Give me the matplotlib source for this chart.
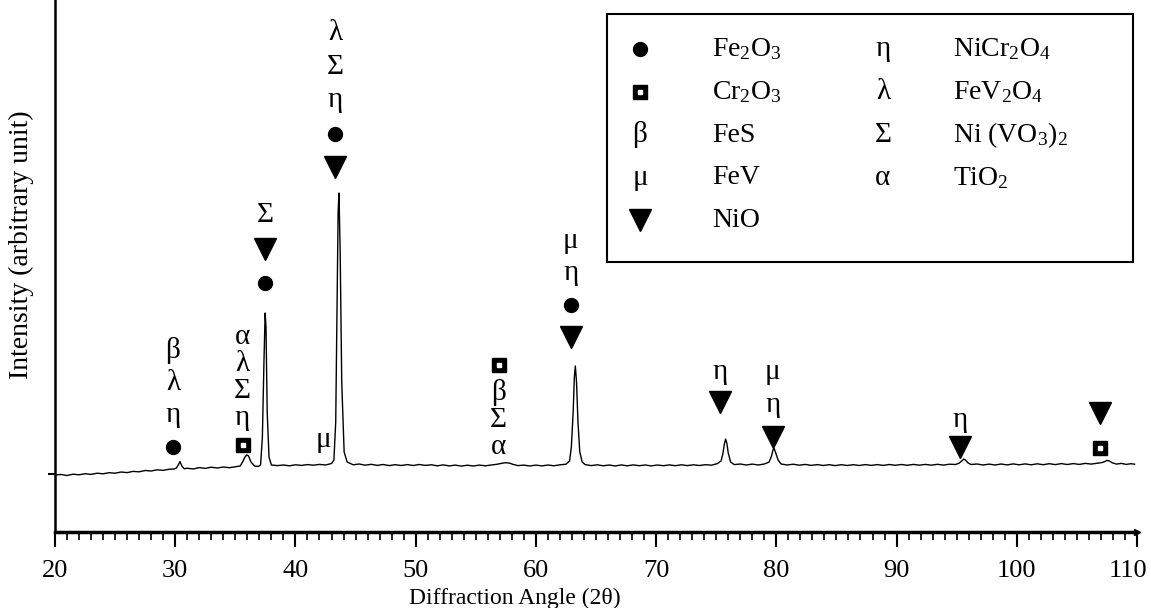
import matplotlib.pyplot as plt
from matplotlib.patches import Rectangle
from matplotlib.transforms import ScaledTranslation

plt.rcParams['font.family'] = 'Liberation Serif'
plt.rcParams['mathtext.fontset'] = 'custom'
plt.rcParams['mathtext.rm'] = 'Liberation Serif'
plt.rcParams['mathtext.default'] = 'regular'

# diffraction trace (2theta in degrees, intensity in arbitrary units)
two_theta = [
    20, 20.5, 21, 21.5, 22, 22.5, 23, 23.5, 24, 24.5, 25, 25.5, 26, 26.5, 27, 27.5,
    28, 28.5, 29, 29.5, 29.9,
    30.1, 30.25, 30.4, 30.55, 30.75,
    31, 31.5, 32, 32.5, 33, 33.5, 34, 34.5, 35, 35.4,
    35.6, 35.8, 35.95, 36.1, 36.3, 36.6, 36.9, 37.1,
    37.25, 37.38, 37.48, 37.55, 37.65, 37.8, 38.0,
    38.5, 39, 39.5, 40, 40.5, 41, 41.5, 42, 42.5, 43, 43.2,
    43.35, 43.45, 43.55, 43.62, 43.72, 43.85, 44.05, 44.3,
    44.8, 45.3, 45.8, 46.3, 46.8, 47.3, 47.8, 48.3, 48.8, 49.3, 49.8, 50.3, 50.8,
    51.3, 51.8, 52.3, 52.8, 53.3, 53.8, 54.3, 54.8, 55.3, 55.8, 56.3, 56.8,
    57.2, 57.5, 57.8, 58.1, 58.5,
    59, 59.5, 60, 60.5, 61, 61.5, 62, 62.5, 62.8,
    62.95, 63.1, 63.2, 63.28, 63.38, 63.5, 63.65, 63.85, 64.1,
    64.6, 65.1, 65.6, 66.1, 66.6, 67.1, 67.6, 68.1, 68.6, 69.1, 69.6, 70.1, 70.6,
    71.1, 71.6, 72.1, 72.6, 73.1, 73.6, 74.1, 74.6, 75.1, 75.4,
    75.55, 75.68, 75.78, 75.88, 76.0, 76.2, 76.5,
    77, 77.5, 78, 78.5, 79, 79.4,
    79.6, 79.72, 79.82, 79.95, 80.15, 80.4,
    80.9, 81.4, 81.9, 82.4, 82.9, 83.4, 83.9, 84.4, 84.9, 85.4, 85.9, 86.4, 86.9,
    87.4, 87.9, 88.4, 88.9, 89.4, 89.9, 90.4, 90.9, 91.4, 91.9, 92.4, 92.9, 93.4,
    93.9, 94.4, 94.9, 95.2,
    95.45, 95.6, 95.75, 95.95, 96.2,
    96.7, 97.2, 97.7, 98.2, 98.7, 99.2, 99.7, 100.2, 100.7, 101.2, 101.7, 102.2,
    102.7, 103.2, 103.7, 104.2, 104.7, 105.2, 105.7, 106.2, 106.7, 107.1,
    107.3, 107.5, 107.7, 107.95, 108.3,
    108.7, 109.1, 109.5, 109.8,
]
intensity = [
    57, 57.5, 56.5, 57.8, 57.2, 58.3, 57.6, 58.8, 58.2, 59.3, 58.8, 60, 59.4, 60.6, 60.2, 61.5,
    61, 62.2, 61.6, 62.8, 63,
    64, 67, 70.5, 66, 63.2,
    63.8, 63, 64.4, 63.6, 64.8, 64, 65, 64.3, 65.2, 66,
    70, 75, 77, 76, 70, 66, 65.5, 67,
    95, 170, 219, 205, 120, 75, 67,
    66.4, 67, 66.2, 67.2, 66.6, 67.4, 66.8, 67.6, 67, 68.5, 72,
    110, 220, 320, 339, 280, 150, 80, 70,
    67.2, 68, 66.8, 67.7, 66.6, 67.5, 66.4, 67.3, 66.5, 67.4, 66.5, 67.5, 66.6,
    67.2, 66.2, 67.1, 66.1, 66.9, 65.9, 66.8, 66, 66.9, 66.2, 67, 67.8,
    68.8, 69.3, 68.9, 67.6, 66.4,
    66.9, 66, 66.9, 66.1, 67, 66.2, 67.2, 67.8, 71,
    85, 120, 155, 166, 150, 110, 80, 70, 67.4,
    66.4, 67.2, 66.2, 67, 66, 67.1, 66.2, 67.1, 66.3, 67, 66.1, 67, 66.3,
    67.1, 66.3, 67.2, 66.4, 67.2, 66.5, 67.3, 66.8, 68.4, 71,
    78, 88, 93, 89, 79, 70, 67.4,
    68, 67, 67.9, 67, 68, 70,
    76, 82, 83.5, 79, 72, 68,
    67, 67.8, 66.8, 67.6, 66.6, 67.4, 66.5, 67.3, 66.4, 67.3, 66.5, 67.3, 66.5,
    67.4, 66.6, 67.4, 66.6, 67.5, 66.7, 67.5, 66.7, 67.6, 66.8, 67.6, 66.8, 67.7,
    66.9, 67.8, 67.5, 68.8,
    71.5, 73, 71.8, 69, 67.5,
    68, 67, 67.9, 67, 68, 67.1, 68.1, 67.2, 68.1, 67.2, 68.2, 67.3,
    68.3, 67.4, 68.4, 67.5, 68.4, 67.6, 68.6, 67.9, 68.8, 69.5,
    70.3, 71.6, 71, 69.2, 67.9,
    68.6, 67.6, 68.3, 67.8,
]

x_ticks = [20, 30, 40, 50, 60, 70, 80, 90, 100, 110]

# peak identifications: x, y of lowest item, spacing, items from top to bottom
# 'o' = Fe2O3 dot, 's' = Cr2O3 square, 'v' = NiO triangle, anything else is text
peak_labels = [
    (29.8, 85, 32, ['β', 'λ', 'η', 'o']),
    (35.6, 87, 27, ['α', 'λ', 'Σ', 'η', 's']),
    (37.5, 249, 34, ['Σ', 'v', 'o']),
    (42.3, 92, 0, ['μ']),
    (43.3, 365, 33.5, ['λ', 'Σ', 'η', 'o', 'v']),
    (56.9, 85, 27.3, ['s', 'β', 'Σ', 'α']),
    (62.9, 195, 32, ['μ', 'η', 'o', 'v']),
    (75.3, 130, 30, ['η', 'v']),
    (79.7, 95, 32.5, ['μ', 'η', 'v']),
    (95.3, 85, 27, ['η', 'v']),
    (106.9, 84, 35, ['v', 's']),
]

legend_left = [('o', 'Fe$_2$O$_3$'), ('s', 'Cr$_2$O$_3$'), ('β', 'FeS'),
               ('μ', 'FeV'), ('v', 'NiO')]
legend_right = [('η', 'NiCr$_2$O$_4$'), ('λ', 'FeV$_2$O$_4$'),
                ('Σ', 'Ni (VO$_3$)$_2$'), ('α', 'TiO$_2$')]


def draw_symbol(ax, x, y, sym, transform):
    if sym == 'o':
        ax.plot(x, y, 'o', color='black', ms=10, transform=transform, clip_on=False)
    elif sym == 'v':
        ax.plot(x, y, 'v', color='black', ms=16, transform=transform, clip_on=False)
    elif sym == 's':
        ax.plot(x, y, 's', color='black', ms=10, transform=transform, clip_on=False)
        ax.plot(x, y, 's', color='white', ms=3.2, transform=transform, clip_on=False)
    else:
        ax.text(x, y, sym, fontsize=21, ha='center', va='center', transform=transform)


fig = plt.figure(figsize=(11.51, 6.08), dpi=100)
ax = fig.add_axes([55 / 1151, 1 - 532 / 608, 1082 / 1151, 532 / 608])

ax.plot(two_theta, intensity, color='black', linewidth=1.0)

for x, y0, dy, items in peak_labels:
    n = len(items)
    for i, sym in enumerate(items):
        draw_symbol(ax, x, y0 + (n - 1 - i) * dy, sym, ax.transData)

ax.set_xlim(20, 110)
ax.set_ylim(0, 532)
ax.set_xticks(x_ticks)
ax.set_xticks(range(20, 111), minor=True)
ax.set_yticks([58])
ax.set_yticklabels([''])
ax.tick_params(axis='x', which='major', direction='out', length=11, width=1.5,
               labelsize=19, pad=9)
ax.tick_params(axis='x', which='minor', direction='out', length=6, width=1.2)
ax.tick_params(axis='y', direction='out', length=5, width=1.5)
ax.spines['top'].set_visible(False)
ax.spines['right'].set_visible(False)
ax.spines['bottom'].set_linewidth(2.5)
ax.spines['left'].set_linewidth(1.8)
ax.plot(110, 0, '>', color='black', ms=5, clip_on=False)

# last label sits a little inside the figure edge
last = ax.get_xticklabels()[-1]
last.set_transform(last.get_transform() + ScaledTranslation(-9 / 100, 0, fig.dpi_scale_trans))

ax.set_xlabel('Diffraction Angle (2θ)', fontsize=17)
ax.xaxis.set_label_coords((515 - 55) / 1082, -0.105)
ax.set_ylabel('Intensity (arbitrary unit)', fontsize=20)
ax.yaxis.set_label_coords(-0.019, 0.54)

# legend box
ax_fig = fig.transFigure
fig.patches.append(Rectangle((607 / 1151, 1 - 262 / 608), 526 / 1151, 248 / 608,
                             transform=ax_fig, fill=False, edgecolor='black',
                             linewidth=1.5))
rows_y = [49, 92, 135, 178, 220]
for (sym, name), ry in zip(legend_left, rows_y):
    draw_symbol(ax, 640 / 1151, 1 - ry / 608, sym, ax_fig)
    fig.text(712 / 1151, 1 - ry / 608, name, fontsize=20, va='center', ha='left')
for (sym, name), ry in zip(legend_right, rows_y):
    draw_symbol(ax, 883 / 1151, 1 - ry / 608, sym, ax_fig)
    fig.text(953 / 1151, 1 - ry / 608, name, fontsize=20, va='center', ha='left')

fig.savefig('out.png', dpi=100)
